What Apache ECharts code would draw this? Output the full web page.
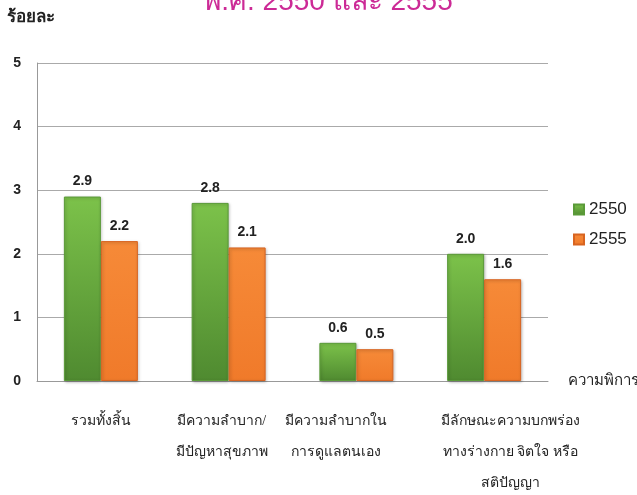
<!DOCTYPE html>
<html>
<head>
<meta charset="utf-8">
<script src="https://cdn.jsdelivr.net/npm/echarts@6/dist/echarts.min.js"></script>
<style>
  html, body { margin: 0; padding: 0; background: #fff; }
  #chart { width: 637px; height: 495px; }
</style>
</head>
<body>
<div id="chart"></div>
<script>
const categories = [
  "รวมทั้งสิ้น",
  "มีความลำบาก/\nมีปัญหาสุขภาพ",
  "มีความลำบากใน\nการดูแลตนเอง",
  "มีลักษณะความบกพร่อง\nทางร่างกาย จิตใจ หรือ\nสติปัญญา"
];
const values2550 = [2.9, 2.8, 0.6, 2.0];
const values2555 = [2.2, 2.1, 0.5, 1.6];
const yTicks = [0, 1, 2, 3, 4, 5];

// horizontal nudges of the category text boxes (px, + = right)
const labelShift = [0, -7, -20, 26];

const chart = echarts.init(document.getElementById("chart"));

const valueLabel = {
  show: true,
  position: "top",
  distance: 8,
  color: "#222",
  fontWeight: "bold",
  fontSize: 14,
  formatter: (p) => p.value.toFixed(1),
};

const catRich = {};
labelShift.forEach((s, i) => {
  catRich["c" + i] = {
    fontSize: 14,
    lineHeight: 31,
    color: "#222",
    fontFamily: "serif",
    padding: s >= 0 ? [0, 0, 0, s * 2] : [0, -s * 2, 0, 0],
  };
});

chart.setOption({
  animation: false,
  title: {
    text: "พ.ศ. 2550 และ 2555",
    left: 323,
    textAlign: "center",
    top: -17,
    textStyle: { color: "#cc2a96", fontSize: 28, fontWeight: "normal" },
  },
  legend: {
    orient: "vertical",
    left: 568,
    top: 196,
    itemWidth: 10,
    itemHeight: 10,
    itemGap: 13,
    icon: "rect",
    textStyle: { fontSize: 17, color: "#222" },
    data: ["2550", "2555"],
  },
  grid: { left: 37, right: 89, top: 63, bottom: 114, containLabel: false, outerBoundsMode: "none" },
  xAxis: {
    type: "category",
    data: categories,
    name: "ความพิการ",
    nameLocation: "end",
    nameGap: 20,
    nameTextStyle: { fontSize: 15, color: "#222", verticalAlign: "middle" },
    axisLine: { show: true, lineStyle: { color: "#999" } },
    axisTick: { show: false },
    axisLabel: {
      interval: 0,
      margin: 25,
      fontSize: 14,
      lineHeight: 31,
      color: "#222",
      fontFamily: "serif",
      formatter: (v, i) => v.split("\n").map((line) => `{c${i}|${line}}`).join("\n"),
      rich: catRich,
    },
  },
  yAxis: {
    type: "value",
    min: yTicks[0],
    max: yTicks[yTicks.length - 1],
    interval: 1,
    name: "ร้อยละ",
    nameLocation: "end",
    nameGap: 37,
    nameTextStyle: { fontSize: 17, color: "#222", fontWeight: "bold", align: "left", padding: [0, 0, 0, -30] },
    axisLine: { show: true, lineStyle: { color: "#999" } },
    axisTick: { show: false },
    axisLabel: { fontSize: 14, fontWeight: "bold", color: "#222", margin: 16 },
    splitLine: { lineStyle: { color: "#aaa" } },
  },
  series: [
    {
      name: "2550",
      type: "bar",
      data: values2550,
      barWidth: 37,
      barGap: "0%",
      label: valueLabel,
      itemStyle: {
        color: new echarts.graphic.LinearGradient(0, 0, 0, 1, [
          { offset: 0, color: "#7cc24a" },
          { offset: 1, color: "#4f8a30" },
        ]),
        borderColor: "#5a9a38",
        borderWidth: 1,
        shadowColor: "rgba(0,0,0,0.25)",
        shadowBlur: 3,
        shadowOffsetX: 1,
        shadowOffsetY: 1,
      },
    },
    {
      name: "2555",
      type: "bar",
      data: values2555,
      barWidth: 37,
      label: valueLabel,
      itemStyle: {
        color: new echarts.graphic.LinearGradient(0, 0, 0, 1, [
          { offset: 0, color: "#f68a38" },
          { offset: 1, color: "#f07a2a" },
        ]),
        borderColor: "#d86420",
        borderWidth: 1,
        shadowColor: "rgba(0,0,0,0.25)",
        shadowBlur: 3,
        shadowOffsetX: 1,
        shadowOffsetY: 1,
      },
    },
  ],
});
</script>
</body>
</html>
